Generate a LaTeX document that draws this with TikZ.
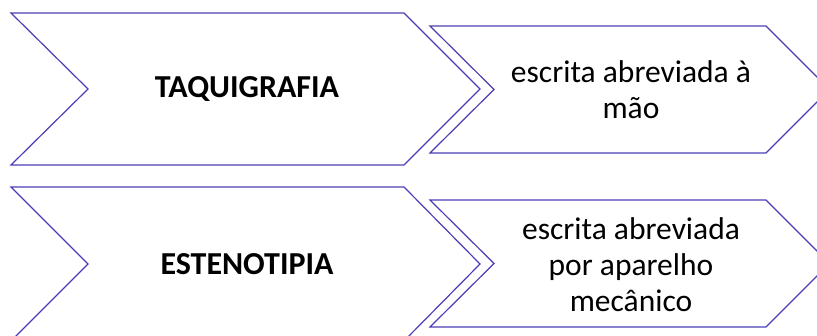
\documentclass[tikz,border=0pt]{standalone}
\usepackage{fontspec}
\setmainfont{Carlito}
\definecolor{chev}{RGB}{76,62,182}
\begin{document}
\begin{tikzpicture}[x=1pt,y=-1pt,
  chevline/.style={draw=chev,line width=1.2pt,fill=white,line join=miter},
  lbl/.style={font=\fontsize{32}{36}\selectfont\bfseries,text=black},
  desc/.style={font=\fontsize{31.5}{36}\selectfont,text=black,align=center}]
\useasboundingbox (0,0) rectangle (817,336);
\clip (0,0) rectangle (817,336);
% top row
\draw[chevline] (11,13) -- (404,13) -- (480,89) -- (404,165) -- (11,165) -- (88,89) -- cycle;
\draw[chevline] (430,26) -- (766,26) -- (829.5,89.5) -- (766,153) -- (430,153) -- (494,89.5) -- cycle;
\node[lbl] (t1) at (247,89) {TAQUIGRAFIA};
\node[desc] (d1) at (631,90) {escrita abreviada à\\mão};
% bottom row
\draw[chevline] (11,187) -- (404,187) -- (480,264) -- (404,341) -- (11,341) -- (88,264) -- cycle;
\draw[chevline] (430,200) -- (766,200) -- (829.5,263.5) -- (766,327) -- (430,327) -- (494,263.5) -- cycle;
\node[lbl] (t2) at (247,264) {ESTENOTIPIA};
\node[desc] (d2) at (631,265) {escrita abreviada\\por aparelho\\mecânico};
\end{tikzpicture}
\end{document}
